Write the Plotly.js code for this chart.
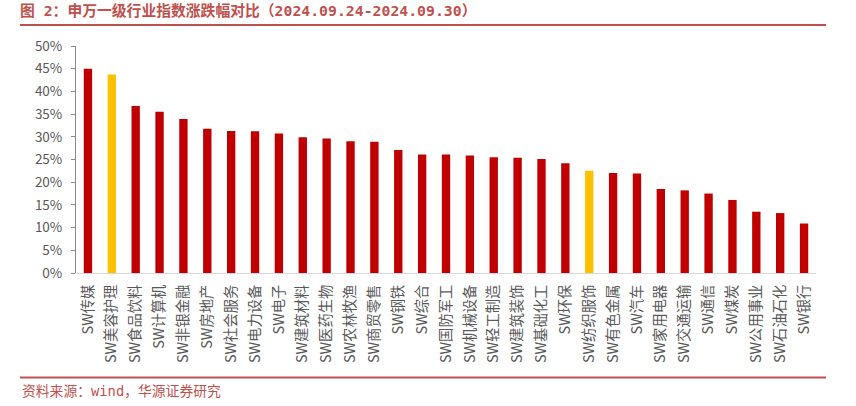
<!DOCTYPE html>
<html>
<head>
<meta charset="utf-8">
<script src="https://cdn.plot.ly/plotly-3.0.1.min.js"></script>
<style>html,body{margin:0;padding:0;background:#fff;}#chart{width:856px;height:406px;}</style>
</head>
<body>
<div id="chart"></div>
<script>
const categories = ["SW传媒","SW美容护理","SW食品饮料","SW计算机","SW非银金融","SW房地产","SW社会服务","SW电力设备","SW电子","SW建筑材料","SW医药生物","SW农林牧渔","SW商贸零售","SW钢铁","SW综合","SW国防军工","SW机械设备","SW轻工制造","SW建筑装饰","SW基础化工","SW环保","SW纺织服饰","SW有色金属","SW汽车","SW家用电器","SW交通运输","SW通信","SW煤炭","SW公用事业","SW石油石化","SW银行"];
const changes = [45.0,43.7,36.8,35.5,33.9,31.8,31.3,31.2,30.7,29.9,29.6,29.0,28.9,27.1,26.1,26.1,25.9,25.5,25.4,25.1,24.2,22.5,22.0,21.9,18.5,18.2,17.5,16.1,13.5,13.2,10.9];
const highlighted = ["SW美容护理","SW纺织服饰"];
const yTicks = [0,5,10,15,20,25,30,35,40,45,50];

const RED = "#C00000", GOLD = "#FFC000", DEEP = "#C0504D";
const colors = categories.map(c => highlighted.includes(c) ? GOLD : RED);

// plot area in pixels: x 76..816, y 45.5..273.5
const L = 76, R = 816, T = 45.5, B = 273.5;
const px = x => (x - L) / (R - L);
const py = y => (B - y) / (B - T);
const MONO = "'DejaVu Sans Mono', 'Noto Sans CJK SC', monospace";

const trace = {
  type: "bar",
  x: categories,
  y: changes,
  marker: {color: colors},
  hoverinfo: "x+y"
};

const layout = {
  width: 856, height: 406,
  margin: {l: L, r: 856 - R, t: T, b: 406 - B, pad: 0},
  paper_bgcolor: "#fff", plot_bgcolor: "#fff",
  bargap: 0.65,
  showlegend: false,
  font: {family: "'Noto Sans CJK SC', 'Noto Sans', sans-serif", color: "#595959", size: 13},
  title: {
    text: "图 2：申万一级行业指数涨跌幅对比（2024.09.24-2024.09.30）",
    font: {family: MONO, size: 14.8, color: DEEP, weight: "bold"},
    xref: "container", yref: "container",
    x: 20 / 856, xanchor: "left",
    y: 1 - 10.5 / 406, yanchor: "middle"
  },
  xaxis: {
    type: "category",
    tickangle: -90,
    showgrid: false,
    showline: true, linecolor: "#D9D9D9", linewidth: 1,
    ticks: "",
    ticklabelstandoff: 5,
    tickfont: {size: 14.3, color: "#595959"},
    fixedrange: true
  },
  yaxis: {
    range: [0, 50],
    tickvals: yTicks,
    ticktext: yTicks.map(v => v + "%"),
    showgrid: false,
    zeroline: false,
    showline: true, linecolor: "#898989", linewidth: 1,
    ticks: "outside", ticklen: 4, tickcolor: "#898989",
    ticklabelstandoff: 6,
    tickfont: {size: 13.5, color: "#595959"},
    fixedrange: true
  },
  shapes: [
    {type: "line", xref: "paper", yref: "paper", x0: px(20), x1: px(826), y0: py(24.5), y1: py(24.5), line: {color: DEEP, width: 2}},
    {type: "line", xref: "paper", yref: "paper", x0: px(20), x1: px(826), y0: py(378.5), y1: py(378.5), line: {color: DEEP, width: 2}}
  ],
  annotations: [
    {text: "资料来源：wind，华源证券研究", xref: "paper", yref: "paper", x: px(20), y: py(392.5), xanchor: "left", yanchor: "middle", showarrow: false, font: {family: MONO, size: 13.8, color: DEEP}}
  ]
};

Plotly.newPlot("chart", [trace], layout, {displayModeBar: false, staticPlot: true});
</script>
</body>
</html>
